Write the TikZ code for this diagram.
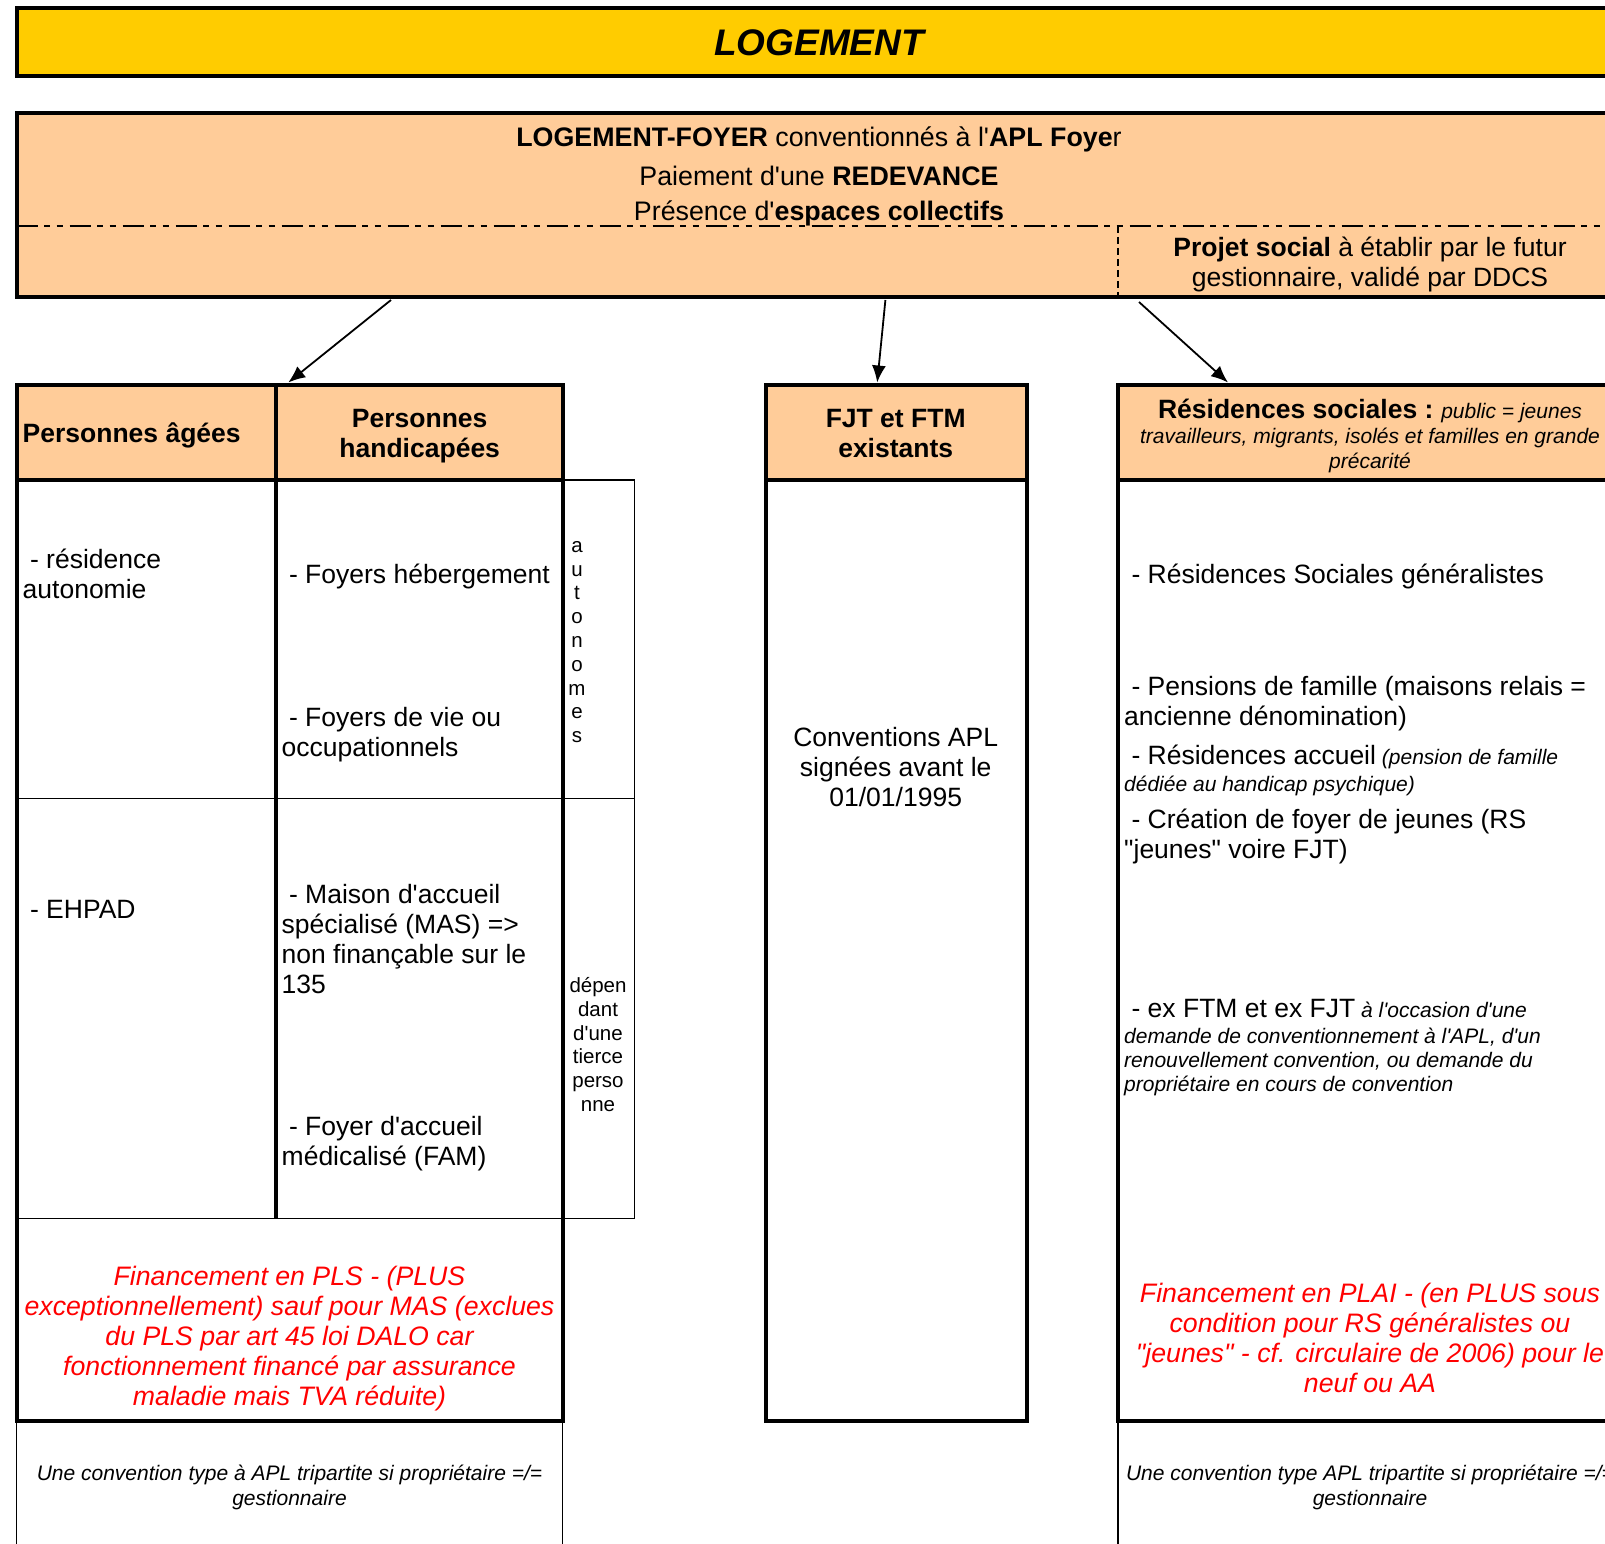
\documentclass[tikz,border=0pt]{standalone}
\usepackage{fontspec}
\setmainfont{Liberation Sans}[Ligatures=TeXOff]
\usetikzlibrary{arrows.meta}
\definecolor{titleyellow}{HTML}{FFCC00}
\definecolor{peach}{HTML}{FFCC99}
\definecolor{redtxt}{HTML}{FF0000}
\newcommand\bigtxt{\fontsize{26.5}{30}\selectfont}
\newcommand\smit{\fontsize{21}{24.5}\selectfont\itshape}
\begin{document}
\begin{tikzpicture}[x=1pt,y=-1pt,
  thickline/.style={line width=4pt},
  thinline/.style={line width=1.4pt},
  box/.style={draw,line width=4pt,anchor=north west,inner sep=0pt,outer sep=0pt},
  txt/.style={inner sep=0pt,font=\bigtxt},
  ltxt/.style={inner sep=0pt,font=\bigtxt,align=left,anchor=west},
  ctxt/.style={inner sep=0pt,font=\bigtxt,align=center},
  arr/.style={line width=1.8pt,-{Latex[length=17pt,width=14pt]}}]
\useasboundingbox (0,0) rectangle (1605,1543);
\clip (0,0) rectangle (1605,1543);

% title
\node[box,fill=titleyellow,minimum width=1700pt,minimum height=68pt] (titlebox) at (16.5,8.3) {};
\node[txt,font=\fontsize{37}{40}\selectfont\bfseries\itshape] (title) at (819,43) {LOGEMENT};

% main box
\node[box,fill=peach,minimum width=1700pt,minimum height=184.2pt] (mainbox) at (16.5,112.5) {};
\draw[line width=2pt,dash pattern=on 21pt off 6.5pt on 6pt off 6.5pt on 6pt off 7pt] (16.5,225.8) -- (1700,225.8);
\draw[line width=1.6pt,dash pattern=on 7pt off 4pt] (1118,225.8) -- (1118,294.7);
\node[txt,font=\fontsize{26.8}{30}\selectfont] (m1) at (819,139) {\textbf{LOGEMENT-FOYER} conventionnés à l'\textbf{APL Foye}r};
\node[txt,font=\fontsize{26.8}{30}\selectfont] (m2) at (819,176) {Paiement d'une \textbf{REDEVANCE}};
\node[txt,font=\fontsize{26.8}{30}\selectfont] (m3) at (819,213) {Présence d'\textbf{espaces collectifs}};
\node[ctxt] (projet) at (1370,264.5) {\textbf{Projet social} à établir par le futur\\gestionnaire, validé par DDCS};

% headers
\node[box,fill=peach,minimum width=259.9pt,minimum height=95.6pt] (hPA) at (16.5,384.5) {};
\node[box,fill=peach,minimum width=286.1pt,minimum height=95.6pt] (hPH) at (276.4,384.5) {};
\node[box,fill=peach,minimum width=261pt,minimum height=95.6pt] (hFJT) at (765.7,384.5) {};
\node[box,fill=peach,minimum width=600pt,minimum height=95.6pt] (hRS) at (1117.8,384.5) {};
\node[ltxt,font=\bigtxt\bfseries] (tPA) at (22.5,435) {Personnes âgées};
\node[ctxt,font=\bigtxt\bfseries] (tPH) at (419.7,436.5) {Personnes\\handicapées};
\node[ctxt,font=\bigtxt\bfseries] (tFJT) at (895.7,433.5) {FJT et FTM\\existants};
\node[ctxt,font=\fontsize{21}{25}\selectfont] (tRS) at (1370,436) {{\bigtxt\bfseries Résidences sociales :} \textit{public = jeunes}\\\textit{travailleurs, migrants, isolés et familles en grande}\\\textit{précarité}};

% left table body
\draw[thinline] (16.5,798.3) -- (634.5,798.3);
\draw[thinline] (16.5,1218.3) -- (634.5,1218.3);
\draw[thinline] (562.5,480.1) -- (634.5,480.1) -- (634.5,1218.3);
\draw[thickline] (16.5,480.1) -- (16.5,1420.8) -- (562.5,1420.8) -- (562.5,480.1);
\draw[thickline] (276.4,480.1) -- (276.4,1218.3);
\draw[thinline] (16.5,1420.8) -- (16.5,1560);
\draw[thinline] (562.5,1420.8) -- (562.5,1560);

% middle column body
\node[box,minimum width=261pt,minimum height=940.7pt] (bFJT) at (765.7,480.1) {};
% right column body
\node[box,minimum width=600pt,minimum height=940.7pt] (bRS) at (1117.8,480.1) {};
\draw[thinline] (1117.8,1420.8) -- (1117.8,1560);

% left texts
\node[ltxt] (pa1) at (22.5,573.5) {\ - résidence\\autonomie};
\node[ltxt] (pa2) at (22.5,909) {\ - EHPAD};
\node[ltxt] (ph1) at (281.5,576) {\ - Foyers hébergement};
\node[ltxt] (ph2) at (281.5,735) {\ - Foyers de vie ou\\occupationnels};
\node[ltxt] (ph3) at (281.5,939.5) {\ - Maison d'accueil\\spécialisé (MAS) =>\\non finançable sur le\\135};
\node[ltxt] (ph4) at (281.5,1143.5) {\ - Foyer d'accueil\\médicalisé (FAM)};
\node[ctxt,font=\fontsize{20.5}{23.8}\selectfont] (auto) at (577,642) {a\\u\\t\\o\\n\\o\\m\\e\\s};
\node[ctxt,font=\fontsize{20.5}{23.7}\selectfont] (dep) at (598,1044.5) {dépen\\dant\\d'une\\tierce\\perso\\nne};
\node[ctxt,font=\fontsize{26.7}{30}\selectfont\itshape,text=redtxt] (finL) at (289.5,1339) {Financement en PLS - (PLUS\\exceptionnellement) sauf pour MAS (exclues\\du PLS par art 45 loi DALO car\\fonctionnement financé par assurance\\maladie mais TVA réduite)};
\node[ctxt,font=\smit] (convL) at (289.5,1487.5) {Une convention type à APL tripartite si propriétaire =/=\\gestionnaire};

% middle texts
\node[ctxt] (conv) at (895.7,767) {Conventions APL\\signées avant le\\01/01/1995};

% right texts
\node[ltxt] (rs1) at (1124,576) {\ - Résidences Sociales généralistes};
\node[ltxt] (rs2) at (1124,703.5) {\ - Pensions de famille (maisons relais =\\ancienne dénomination)};
\node[ltxt,font=\fontsize{21}{27}\selectfont] (rs3) at (1124,770.5) {{\bigtxt\ - Résidences accueil} \textit{(pension de famille}\\\textit{dédiée au handicap psychique)}};
\node[ltxt] (rs4) at (1124,836.5) {\ - Création de foyer de jeunes (RS\\"jeunes" voire FJT)};
\node[ltxt,font=\fontsize{21}{24.3}\selectfont] (rs5) at (1124,1047.5) {{\bigtxt\ - ex FTM et ex FJT} \textit{à l'occasion d'une}\\[1.5pt]\textit{demande de conventionnement à l'APL, d'un}\\\textit{renouvellement convention, ou demande du}\\\textit{propriétaire en cours de convention}};
\node[ctxt,font=\fontsize{26.7}{30}\selectfont\itshape,text=redtxt] (finR) at (1370,1337.5) {Financement en PLAI - (en PLUS sous\\condition pour RS généralistes ou\\"jeunes" - cf. circulaire de 2006) pour le\\neuf ou AA};
\node[ctxt,font=\smit] (convR) at (1370,1487.5) {Une convention type APL tripartite si propriétaire =/=\\gestionnaire};

% arrows
\coordinate (a1s) at (391,300);
\coordinate (a1e) at (288.3,382.5);
\coordinate (a2s) at (885.4,300);
\coordinate (a2e) at (877.2,382.5);
\coordinate (a3s) at (1139,302);
\coordinate (a3e) at (1228,382.5);
\draw[arr] (a1s) -- (a1e);
\draw[arr] (a2s) -- (a2e);
\draw[arr] (a3s) -- (a3e);
\end{tikzpicture}
\end{document}
